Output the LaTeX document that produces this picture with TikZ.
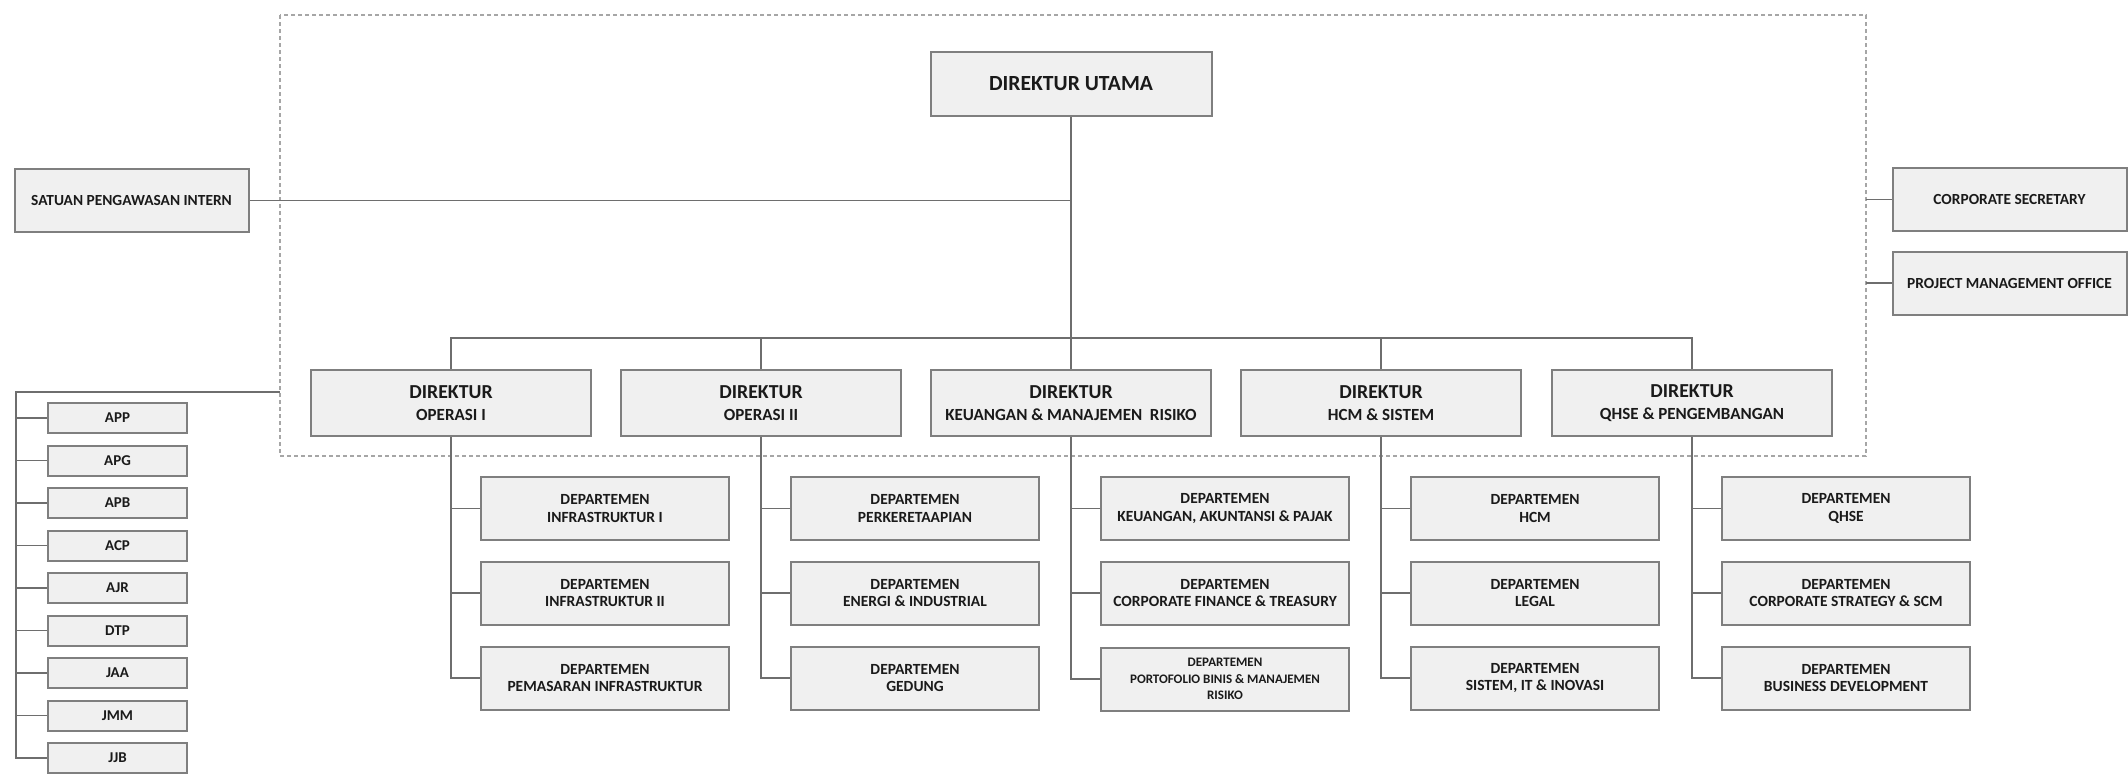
\documentclass[tikz,border=0pt]{standalone}
\usepackage{fontspec}
\setmainfont{Carlito}
\usetikzlibrary{backgrounds}
\definecolor{boxfill}{HTML}{F0F0F0}
\definecolor{boxline}{HTML}{7F7F7F}
\definecolor{wire}{HTML}{6E6E6E}
\definecolor{framecol}{HTML}{A6A6A6}
\definecolor{ink}{HTML}{1A1A1A}
\begin{document}
\begin{tikzpicture}[x=0.5pt,y=-0.5pt,
  unit/.style={draw=boxline, line width=1pt, fill=boxfill, text=ink, inner sep=0pt, align=center},
  topbox/.style={unit, minimum width=140.5pt, minimum height=32pt, font=\fontsize{10.8}{12}\selectfont\bfseries},
  sidebox/.style={unit, minimum width=117pt, minimum height=31.5pt, font=\fontsize{7.7}{9}\selectfont\bfseries},
  dirbox/.style={unit, minimum width=140pt, minimum height=33pt, font=\fontsize{9.9}{10.85}\selectfont\bfseries},
  deptbox/.style={unit, minimum width=124pt, minimum height=31.5pt, font=\fontsize{7.75}{8.65}\selectfont\bfseries},
  subbox/.style={unit, minimum width=69.5pt, minimum height=15pt, font=\fontsize{7.5}{9}\selectfont\bfseries},
  conn/.style={draw=wire, line width=0.9pt},
  frame/.style={draw=framecol, line width=0.75pt, dash pattern=on 2pt off 1.5pt}]

\useasboundingbox (0,0) rectangle (2128,776);

% corners of the board-of-directors group
\coordinate (fnw) at (280,15);
\coordinate (fse) at (1866,456);

% top level
\node[topbox] (du) at (1071,84) {DIREKTUR UTAMA};
\node[sidebox] (spi) at (131.5,200.5) {SATUAN PENGAWASAN INTERN};
\node[sidebox] (cs) at (2009.5,199.5) {CORPORATE SECRETARY};
\node[sidebox] (pmo) at (2009.5,283) {PROJECT MANAGEMENT OFFICE};

% directors
\node[dirbox] (d1) at (451,403) {DIREKTUR\\{\fontsize{8.5}{10.85}\selectfont OPERASI I}};
\node[dirbox] (d2) at (761,403) {DIREKTUR\\{\fontsize{8.5}{10.85}\selectfont OPERASI II}};
\node[dirbox] (d3) at (1071,403) {DIREKTUR\\{\fontsize{8.5}{10.85}\selectfont KEUANGAN \& MANAJEMEN\ \ RISIKO}};
\node[dirbox] (d4) at (1381,403) {DIREKTUR\\{\fontsize{8.5}{10.85}\selectfont HCM \& SISTEM}};
\node[dirbox] (d5) at (1692,403) {DIREKTUR\\{\fontsize{8.5}{10.85}\selectfont QHSE \& PENGEMBANGAN}};

% departments
\node[deptbox] (d1a) at (605,508.5) {DEPARTEMEN\\INFRASTRUKTUR I};
\node[deptbox] (d1b) at (605,593) {DEPARTEMEN\\INFRASTRUKTUR II};
\node[deptbox] (d1c) at (605,678) {DEPARTEMEN\\PEMASARAN INFRASTRUKTUR};
\node[deptbox] (d2a) at (915,508.5) {DEPARTEMEN\\PERKERETAAPIAN};
\node[deptbox] (d2b) at (915,593) {DEPARTEMEN\\ENERGI \& INDUSTRIAL};
\node[deptbox] (d2c) at (915,678) {DEPARTEMEN\\GEDUNG};
\node[deptbox] (d3a) at (1225,508.5) {DEPARTEMEN\\KEUANGAN, AKUNTANSI \& PAJAK};
\node[deptbox] (d3b) at (1225,593) {DEPARTEMEN\\CORPORATE FINANCE \& TREASURY};
\node[deptbox, font=\fontsize{6.5}{8.3}\selectfont\bfseries] (d3c) at (1225,679) {DEPARTEMEN\\PORTOFOLIO BINIS \& MANAJEMEN\\RISIKO};
\node[deptbox] (d4a) at (1535,508.5) {DEPARTEMEN\\HCM};
\node[deptbox] (d4b) at (1535,593) {DEPARTEMEN\\LEGAL};
\node[deptbox] (d4c) at (1535,678) {DEPARTEMEN\\SISTEM, IT \& INOVASI};
\node[deptbox] (d5a) at (1846,508.5) {DEPARTEMEN\\QHSE};
\node[deptbox] (d5b) at (1846,593) {DEPARTEMEN\\CORPORATE STRATEGY \& SCM};
\node[deptbox] (d5c) at (1846,678) {DEPARTEMEN\\BUSINESS DEVELOPMENT};

% subsidiaries
\node[subbox] (s1) at (117.5,418) {APP};
\node[subbox] (s2) at (117.5,460.5) {APG};
\node[subbox] (s3) at (117.5,503) {APB};
\node[subbox] (s4) at (117.5,545.5) {ACP};
\node[subbox] (s5) at (117.5,588) {AJR};
\node[subbox] (s6) at (117.5,630.5) {DTP};
\node[subbox] (s7) at (117.5,673) {JAA};
\node[subbox] (s8) at (117.5,715.5) {JMM};
\node[subbox] (s9) at (117.5,758) {JJB};

\coordinate (bus) at (1071,338);
\coordinate (subtap) at (280,392);
\coordinate (sbus) at (16,392);

% group frame and connectors behind the boxes
\begin{scope}[on background layer]
\draw[frame] (fnw) rectangle (fse);

\draw[conn] (du.south) -- (d3.north);
\draw[conn] (spi.east) -- (spi.east -| du.south);
\draw[conn] (cs.west) -- (cs.west -| fse);
\draw[conn] (pmo.west) -- (pmo.west -| fse);
\draw[conn] (d1.north) |- (bus) -| (d5.north);
\draw[conn] (d2.north) -- (d2.north |- bus);
\draw[conn] (d4.north) -- (d4.north |- bus);

\foreach \d in {d1,d2,d3,d4,d5}{
  \draw[conn] (\d.south) |- (\d c.west);
  \draw[conn] (\d a.west) -- (\d a.west -| \d.south);
  \draw[conn] (\d b.west) -- (\d b.west -| \d.south);
}

\draw[conn] (subtap) -- (sbus) |- (s9.west);
\foreach \s in {s1,s2,s3,s4,s5,s6,s7,s8}{
  \draw[conn] (\s.west) -- (\s.west -| sbus);
}
\end{scope}
\end{tikzpicture}
\end{document}
